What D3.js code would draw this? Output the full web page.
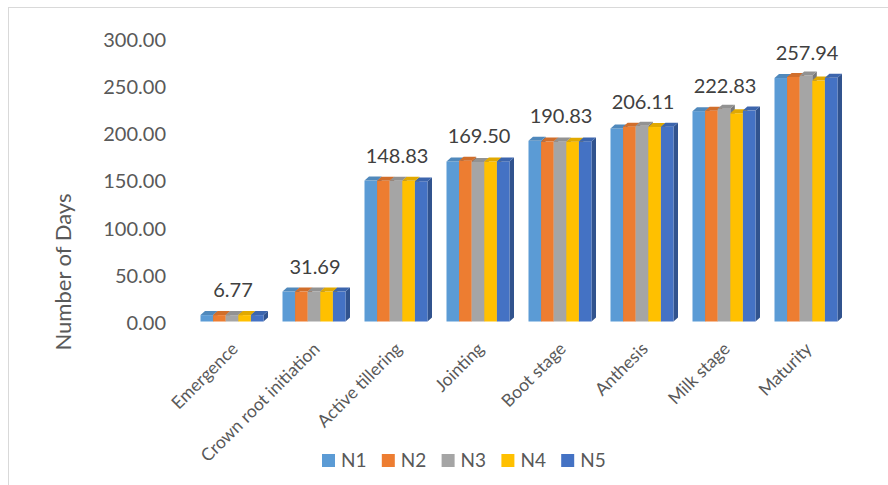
<!DOCTYPE html>
<html>
<head>
<meta charset="utf-8">
<script src="https://cdn.jsdelivr.net/npm/d3@7"></script>
<style>
  html, body { margin: 0; padding: 0; background: #fff; }
  svg { display: block; font-family: Lato, "Open Sans", sans-serif; }
</style>
</head>
<body>
<svg id="chart" width="888" height="485"></svg>
<script>
const categories = ["Emergence", "Crown root initiation", "Active tillering", "Jointing", "Boot stage", "Anthesis", "Milk stage", "Maturity"];
const seriesNames = ["N1", "N2", "N3", "N4", "N5"];
const N1 = [6.77, 31.69, 149.3, 169.5, 191.4, 204.5, 222.8, 257.9];
const N2 = [6.77, 31.69, 149.0, 170.4, 190.6, 206.3, 223.3, 259.0];
const N3 = [6.77, 31.69, 149.0, 169.0, 190.8, 207.4, 225.5, 260.6];
const N4 = [6.77, 31.69, 149.0, 169.5, 190.5, 206.0, 220.6, 255.2];
const N5 = [6.77, 31.69, 148.4, 169.6, 190.8, 206.4, 223.4, 258.1];
const labelValues = [6.77, 31.69, 148.83, 169.50, 190.83, 206.11, 222.83, 257.94];
const yTicks = [0, 50, 100, 150, 200, 250, 300];
const colors = ["#5B9BD5", "#ED7D31", "#A5A5A5", "#FFC000", "#4472C4"];

const seriesValues = [N1, N2, N3, N4, N5];
const svg = d3.select("#chart");

// chart border
svg.append("rect").attr("x", 8.5).attr("y", 7.5).attr("width", 900).attr("height", 600)
  .attr("fill", "none").attr("stroke", "#D9D9D9").attr("stroke-width", 1);

const y = d3.scaleLinear().domain([0, 300]).range([321.5, 38.3]);
const x0 = d3.scaleBand().domain(categories).range([191, 847]).paddingInner(0.2317).paddingOuter(0.1159);
const x1 = d3.scaleBand().domain(seriesNames).range([0, x0.bandwidth()]);

const dx = 4.5, dy = 4;

// y axis
const yAxis = d3.axisLeft(y).tickValues(yTicks).tickSize(0).tickPadding(0).tickFormat(d3.format(".2f"));
const gy = svg.append("g").attr("transform", "translate(166,1.5)").call(yAxis);
gy.select(".domain").remove();
gy.selectAll("text").attr("fill", "#595959").style("font-size", "20px").style("font-family", "Lato, sans-serif");

// axis title
svg.append("text").attr("transform", "translate(71,272) rotate(-90)")
  .attr("text-anchor", "middle").attr("fill", "#595959").style("font-size", "22px")
  .text("Number of Days");

function shade(c, k) { return d3.color(c).darker(k).formatHex(); }

const groups = svg.append("g").selectAll("g").data(categories).join("g")
  .attr("transform", d => `translate(${x0(d)},0)`);

groups.each(function(cat, ci) {
  const g = d3.select(this);
  seriesNames.forEach((s, si) => {
    const v = seriesValues[si][ci];
    const xl = x1(s), w = x1.bandwidth();
    const yt = y(v), yb = y(0);
    const c = colors[si];
    g.append("path").attr("d", `M${xl + w},${yt} L${xl + w + dx},${yt - dy} L${xl + w + dx},${yb - dy} L${xl + w},${yb} Z`)
      .attr("fill", shade(c, 0.9));
    g.append("rect").attr("x", xl).attr("y", yt).attr("width", w).attr("height", yb - yt).attr("fill", c);
    g.append("path").attr("d", `M${xl},${yt} L${xl + dx},${yt - dy} L${xl + w + dx},${yt - dy} L${xl + w},${yt} Z`)
      .attr("fill", shade(c, 0.35));
  });
});

// data labels
svg.append("g").selectAll("text").data(categories).join("text")
  .attr("x", d => x0(d) + x0.bandwidth() / 2 + 1)
  .attr("y", (d, i) => y(labelValues[i]) - 18)
  .attr("text-anchor", "middle").attr("fill", "#404040").style("font-size", "20px")
  .text((d, i) => labelValues[i].toFixed(2));

// category labels
svg.append("g").selectAll("text").data(categories).join("text")
  .attr("transform", d => `translate(${x0(d) + x0.bandwidth() / 2 + 7},350) rotate(-45)`)
  .attr("text-anchor", "end").attr("fill", "#595959").style("font-size", "17.5px")
  .text(d => d);

// legend
const legend = svg.append("g").selectAll("g").data(seriesNames).join("g")
  .attr("transform", (d, i) => `translate(${322 + i * 59.8},454)`);
legend.append("rect").attr("width", 13).attr("height", 13).attr("fill", (d, i) => colors[i]);
legend.append("text").attr("x", 19).attr("y", 13).attr("fill", "#595959").style("font-size", "19px").text(d => d);
</script>
</body>
</html>
